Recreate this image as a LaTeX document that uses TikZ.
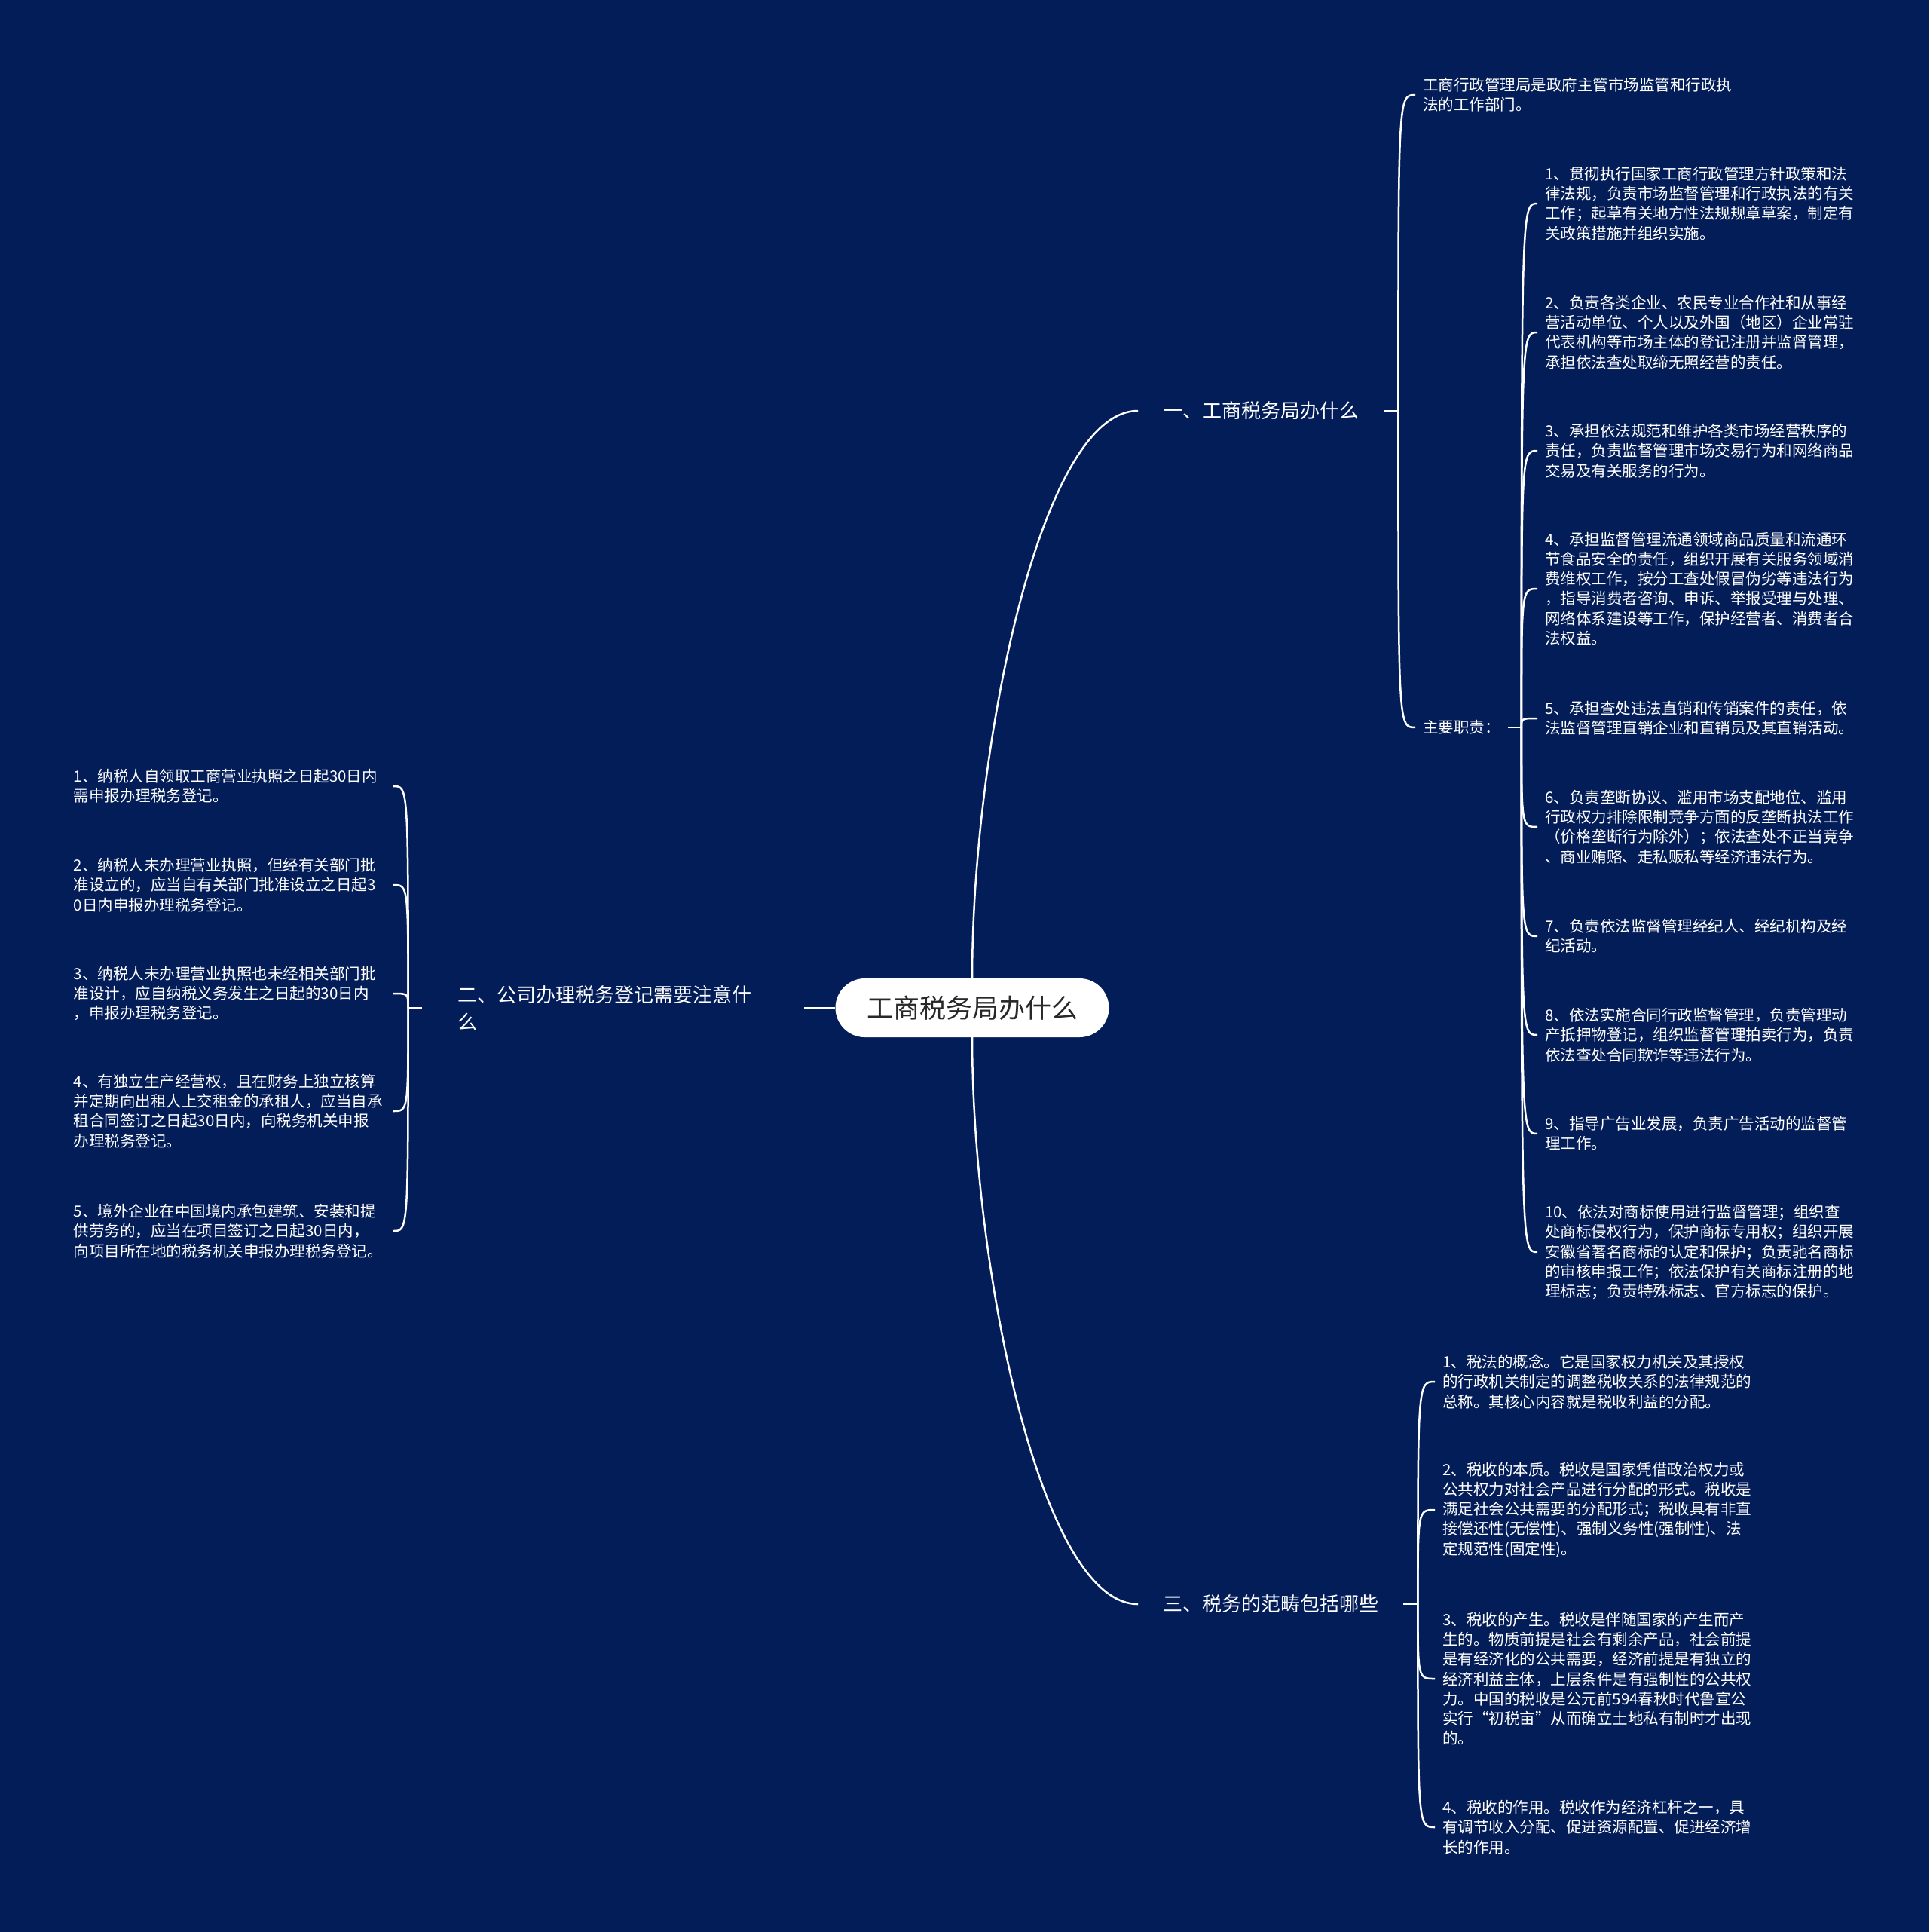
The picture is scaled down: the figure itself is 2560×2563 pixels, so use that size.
\documentclass[tikz,border=0pt]{standalone}
\usepackage{fontspec}
\setmainfont{Noto Sans CJK SC}
\usetikzlibrary{calc}
\definecolor{navy}{RGB}{3,29,89}
\definecolor{rootink}{RGB}{40,40,40}

\begin{document}
\begin{tikzpicture}[x=1pt, y=-1pt,
    root/.style={fill=white, rounded corners=39pt, minimum width=363pt, minimum height=78pt, text=rootink, font=\fontsize{35}{42}\selectfont},
    branch/.style={text=white, align=left, inner xsep=33pt, inner ysep=0pt, font=\fontsize{26}{36}\selectfont},
    leaf/.style={text=white, align=left, inner xsep=10pt, inner ysep=0pt, anchor=west, font=\fontsize{20.5}{26.2}\selectfont},
    leftleaf/.style={leaf, anchor=east, text width=412pt, inner xsep=12pt},
    link/.style={white, line width=2.5pt},
    hookto/.style={to path={.. controls (\tikztostart |- \tikztotarget) .. (\tikztotarget)}}
]
\useasboundingbox (0,0) rectangle (2560,2563);
\fill[navy] (0,0) rectangle (2560,2563);

\node[root] (root) at (1290,1337) {工商税务局办什么};
\node[branch, anchor=west] (b1) at (1510,545) {一、工商税务局办什么};
\node[branch, anchor=east, text width=411pt, inner xsep=48pt] (b2) at (1067,1337) {二、公司办理税务登记需要注意什\\么};
\node[branch, anchor=west] (b3) at (1510,2128) {三、税务的范畴包括哪些};

\coordinate (h1) at ([xshift=19pt]b1.east);
\coordinate (h2) at ([xshift=-18pt]b2.west);
\coordinate (h3) at ([xshift=19pt]b3.east);

\node[leaf] (intro) at (1878,126) {工商行政管理局是政府主管市场监管和行政执\\法的工作部门。};
\node[leaf] (duty) at (1878,965) {主要职责：};
\coordinate (hd) at ([xshift=18pt]duty.east);

\node[leaf] (r1) at (2040,270) {1、贯彻执行国家工商行政管理方针政策和法\\律法规，负责市场监督管理和行政执法的有关\\工作；起草有关地方性法规规章草案，制定有\\关政策措施并组织实施。};
\node[leaf] (r2) at (2040,441) {2、负责各类企业、农民专业合作社和从事经\\营活动单位、个人以及外国（地区）企业常驻\\代表机构等市场主体的登记注册并监督管理，\\承担依法查处取缔无照经营的责任。};
\node[leaf] (r3) at (2040,598) {3、承担依法规范和维护各类市场经营秩序的\\责任，负责监督管理市场交易行为和网络商品\\交易及有关服务的行为。};
\node[leaf] (r4) at (2040,781) {4、承担监督管理流通领域商品质量和流通环\\节食品安全的责任，组织开展有关服务领域消\\费维权工作，按分工查处假冒伪劣等违法行为\\，指导消费者咨询、申诉、举报受理与处理、\\网络体系建设等工作，保护经营者、消费者合\\法权益。};
\node[leaf] (r5) at (2040,953) {5、承担查处违法直销和传销案件的责任，依\\法监督管理直销企业和直销员及其直销活动。};
\node[leaf] (r6) at (2040,1097) {6、负责垄断协议、滥用市场支配地位、滥用\\行政权力排除限制竞争方面的反垄断执法工作\\（价格垄断行为除外）；依法查处不正当竞争\\、商业贿赂、走私贩私等经济违法行为。};
\node[leaf] (r7) at (2040,1242) {7、负责依法监督管理经纪人、经纪机构及经\\纪活动。};
\node[leaf] (r8) at (2040,1373) {8、依法实施合同行政监督管理，负责管理动\\产抵押物登记，组织监督管理拍卖行为，负责\\依法查处合同欺诈等违法行为。};
\node[leaf] (r9) at (2040,1504) {9、指导广告业发展，负责广告活动的监督管\\理工作。};
\node[leaf] (r10) at (2040,1661) {10、依法对商标使用进行监督管理；组织查\\处商标侵权行为，保护商标专用权；组织开展\\安徽省著名商标的认定和保护；负责驰名商标\\的审核申报工作；依法保护有关商标注册的地\\理标志；负责特殊标志、官方标志的保护。};

\node[leaf] (t1) at (1904,1833) {1、税法的概念。它是国家权力机关及其授权\\的行政机关制定的调整税收关系的法律规范的\\总称。其核心内容就是税收利益的分配。};
\node[leaf] (t2) at (1904,2003) {2、税收的本质。税收是国家凭借政治权力或\\公共权力对社会产品进行分配的形式。税收是\\满足社会公共需要的分配形式；税收具有非直\\接偿还性(无偿性)、强制义务性(强制性)、法\\定规范性(固定性)。};
\node[leaf] (t3) at (1904,2227) {3、税收的产生。税收是伴随国家的产生而产\\生的。物质前提是社会有剩余产品，社会前提\\是有经济化的公共需要，经济前提是有独立的\\经济利益主体，上层条件是有强制性的公共权\\力。中国的税收是公元前594春秋时代鲁宣公\\实行“初税亩”从而确立土地私有制时才出现\\的。};
\node[leaf] (t4) at (1904,2424) {4、税收的作用。税收作为经济杠杆之一，具\\有调节收入分配、促进资源配置、促进经济增\\长的作用。};

\node[leftleaf] (l1) at (522,1043) {1、纳税人自领取工商营业执照之日起30日内\\需申报办理税务登记。};
\node[leftleaf] (l2) at (522,1174) {2、纳税人未办理营业执照，但经有关部门批\\准设立的，应当自有关部门批准设立之日起3\\0日内申报办理税务登记。};
\node[leftleaf] (l3) at (522,1318) {3、纳税人未办理营业执照也未经相关部门批\\准设计，应自纳税义务发生之日起的30日内\\，申报办理税务登记。};
\node[leftleaf] (l4) at (522,1474) {4、有独立生产经营权，且在财务上独立核算\\并定期向出租人上交租金的承租人，应当自承\\租合同签订之日起30日内，向税务机关申报\\办理税务登记。};
\node[leftleaf] (l5) at (522,1633) {5、境外企业在中国境内承包建筑、安装和提\\供劳务的，应当在项目签订之日起30日内，\\向项目所在地的税务机关申报办理税务登记。};

\draw[link] (root.north) .. controls +(0,-300) and +(-131,0) .. (b1.west);
\draw[link] (root.south) .. controls +(0,300) and +(-131,0) .. (b3.west);
\draw[link] (root.west) -- (b2.east);

\draw[link] (b1.east) -- (h1);
\draw[link] (h1) to[hookto] (intro.west);
\draw[link] (h1) to[hookto] (duty.west);
\draw[link] (duty.east) -- (hd);
\draw[link] (hd) to[hookto] (r1.west);
\draw[link] (hd) to[hookto] (r2.west);
\draw[link] (hd) to[hookto] (r3.west);
\draw[link] (hd) to[hookto] (r4.west);
\draw[link] (hd) to[hookto] (r5.west);
\draw[link] (hd) to[hookto] (r6.west);
\draw[link] (hd) to[hookto] (r7.west);
\draw[link] (hd) to[hookto] (r8.west);
\draw[link] (hd) to[hookto] (r9.west);
\draw[link] (hd) to[hookto] (r10.west);

\draw[link] (b3.east) -- (h3);
\draw[link] (h3) to[hookto] (t1.west);
\draw[link] (h3) to[hookto] (t2.west);
\draw[link] (h3) to[hookto] (t3.west);
\draw[link] (h3) to[hookto] (t4.west);

\draw[link] (b2.west) -- (h2);
\draw[link] (h2) to[hookto] (l1.east);
\draw[link] (h2) to[hookto] (l2.east);
\draw[link] (h2) to[hookto] (l3.east);
\draw[link] (h2) to[hookto] (l4.east);
\draw[link] (h2) to[hookto] (l5.east);
\end{tikzpicture}
\end{document}
